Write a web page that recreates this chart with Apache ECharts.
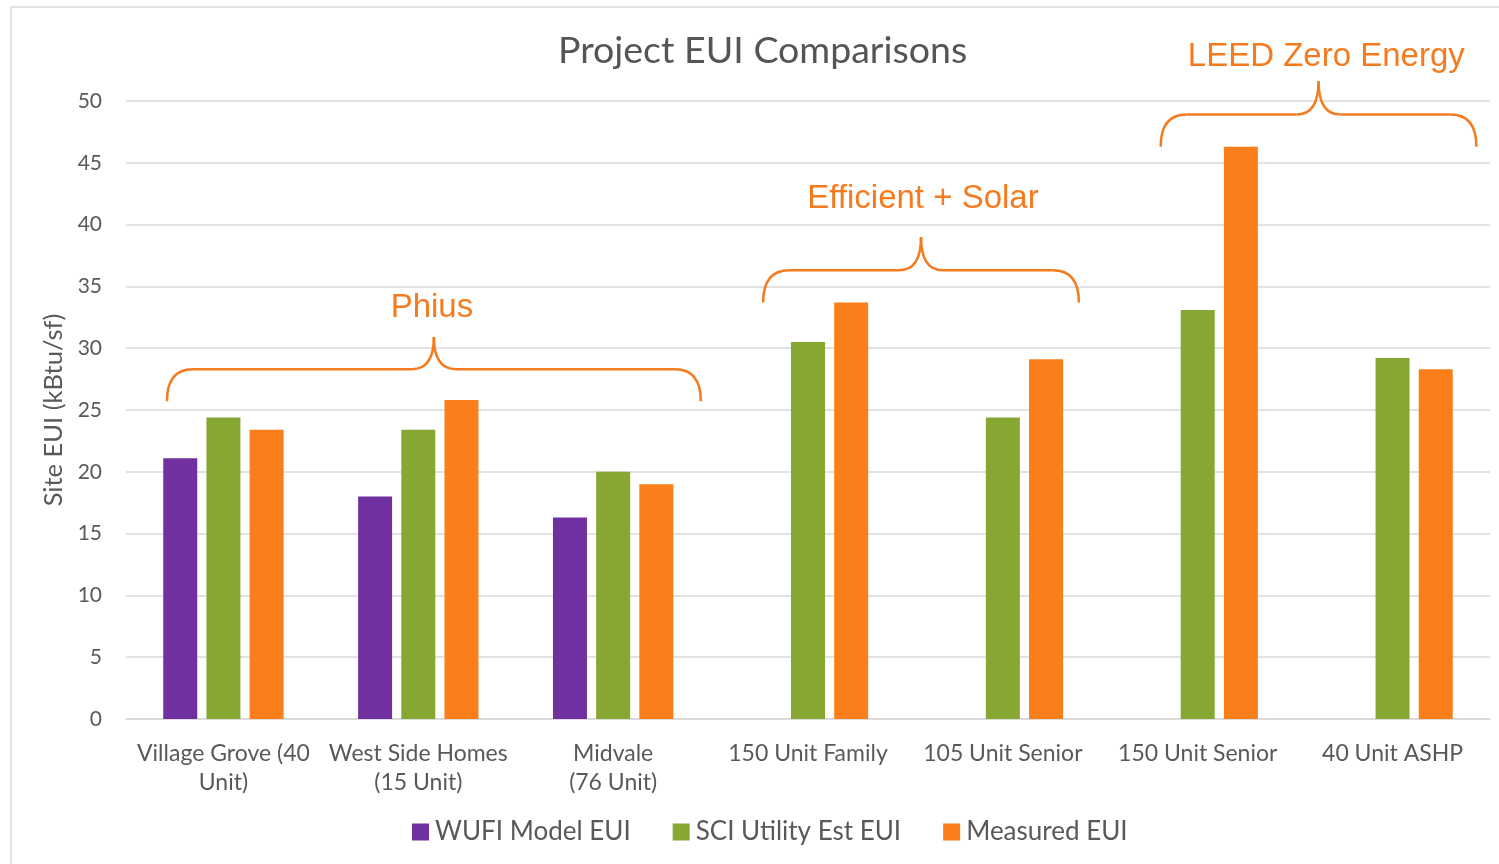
<!DOCTYPE html>
<html>
<head>
<meta charset="utf-8">
<script src="https://cdn.jsdelivr.net/npm/echarts@6/dist/echarts.min.js"></script>
<style>
  html, body { margin: 0; padding: 0; background: #ffffff; }
  #chart { width: 1499px; height: 864px; }
</style>
</head>
<body>
<div id="chart"></div>
<script>
// Projects compared (two-line labels as shown under the axis)
const categories = [
  'Village Grove (40\nUnit)',
  'West Side Homes\n(15 Unit)',
  'Midvale\n(76 Unit)',
  '150 Unit Family',
  '105 Unit Senior',
  '150 Unit Senior',
  '40 Unit ASHP'
];

// Site EUI, kBtu/sf
const wufiModel   = [21.1, 18.0, 16.3, null, null, null, null];
const sciUtility  = [24.4, 23.4, 20.0, 30.5, 24.4, 33.1, 29.2];
const measured    = [23.4, 25.8, 19.0, 33.7, 29.1, 46.3, 28.3];

const yTicks = { min: 0, max: 50, interval: 5 };

// Program groupings drawn as braces above the bars:
// start/end/caption positions in category units, heights in kBtu/sf
const groupNames  = ['Phius', 'Efficient + Solar', 'LEED Zero Energy'];
const groupStart  = [-0.29, 2.77, 4.81];
const groupEnd    = [2.45, 4.39, 6.43];
const groupFoot   = [25.7, 33.7, 46.3];
const groupBar    = [28.3, 36.3, 48.9];
const groupTip    = [30.9, 39.0, 51.6];
const groupLabelX = [1.07, 3.59, 5.66];
const groupLabelY = [33.25, 42.05, 53.55];

const FONT = 'Lato, "Open Sans", sans-serif';
const TEXT_GREY = '#595959';
const ACCENT = '#F47B20';

const chart = echarts.init(document.getElementById('chart'), null, { renderer: 'canvas' });

chart.setOption({
  animation: false,
  backgroundColor: '#ffffff',
  title: {
    text: 'Project EUI Comparisons',
    left: 553,
    top: 27,
    textStyle: { fontFamily: FONT, fontSize: 37.5, fontWeight: 'normal', color: '#555555' }
  },
  grid: { left: 126, right: 9, top: 101, bottom: 145, containLabel: false },
  legend: {
    bottom: 14,
    left: 407,
    itemWidth: 17,
    itemHeight: 17,
    itemGap: 42,
    icon: 'rect',
    textStyle: { fontFamily: FONT, fontSize: 26, color: TEXT_GREY, padding: [0, 0, 0, 1] },
    data: ['WUFI Model EUI', 'SCI Utility Est EUI', 'Measured EUI']
  },
  xAxis: {
    type: 'category',
    data: categories,
    axisTick: { show: false },
    axisLine: { show: true, lineStyle: { color: '#d9d9d9', width: 1.5 } },
    axisLabel: {
      interval: 0,
      margin: 20,
      fontFamily: FONT,
      fontSize: 23,
      lineHeight: 29,
      color: TEXT_GREY
    }
  },
  yAxis: {
    type: 'value',
    min: yTicks.min,
    max: yTicks.max,
    interval: yTicks.interval,
    name: 'Site EUI (kBtu/sf)',
    nameLocation: 'middle',
    nameGap: 58,
    nameRotate: 90,
    nameTextStyle: { fontFamily: FONT, fontSize: 25.5, color: TEXT_GREY },
    axisLine: { show: false },
    axisTick: { show: false },
    axisLabel: { margin: 24, fontFamily: FONT, fontSize: 21, color: TEXT_GREY },
    splitLine: { lineStyle: { color: '#d9d9d9', width: 1.5 } }
  },
  series: [
    { name: 'WUFI Model EUI', type: 'bar', data: wufiModel, barWidth: 34, barGap: '27%', itemStyle: { color: '#7030A0' } },
    { name: 'SCI Utility Est EUI', type: 'bar', data: sciUtility, barWidth: 34, barGap: '27%', itemStyle: { color: '#86A832' } },
    { name: 'Measured EUI', type: 'bar', data: measured, barWidth: 34, barGap: '27%', itemStyle: { color: '#FA7F1A' } }
  ]
});

// Braces and group captions, positioned through the chart's own axes
function drawGroups() {
  const x0 = chart.convertToPixel({ xAxisIndex: 0 }, 0);
  const x1 = chart.convertToPixel({ xAxisIndex: 0 }, 1);
  const step = x1 - x0;
  const px = (c) => x0 + c * step;
  const py = (v) => chart.convertToPixel({ yAxisIndex: 0 }, v);

  const stroke = { fill: 'none', stroke: ACCENT, lineWidth: 2.5 };
  const curve = (a, c, b) => ({
    type: 'bezierCurve', silent: true,
    shape: { x1: a[0], y1: a[1], cpx1: c[0], cpy1: c[1], x2: b[0], y2: b[1] },
    style: stroke
  });
  const seg = (a, b) => ({
    type: 'line', silent: true,
    shape: { x1: a[0], y1: a[1], x2: b[0], y2: b[1] },
    style: stroke
  });

  const elements = [
    {
      type: 'rect',
      silent: true,
      shape: { x: 11, y: 7, width: 1600, height: 1000 },
      style: { fill: 'none', stroke: '#d9d9d9', lineWidth: 1.5 },
      z: -1
    }
  ];

  groupNames.forEach((name, i) => {
    const xl = px(groupStart[i]);
    const xr = px(groupEnd[i]);
    const xm = (xl + xr) / 2;
    const yF = py(groupFoot[i]);
    const yB = py(groupBar[i]);
    const yT = py(groupTip[i]);
    const r = 26;
    const rm = 22;
    elements.push(curve([xl, yF], [xl, yB], [xl + r, yB]));
    elements.push(seg([xl + r, yB], [xm - rm, yB]));
    elements.push(curve([xm - rm, yB], [xm, yB], [xm, yT]));
    elements.push(curve([xm, yT], [xm, yB], [xm + rm, yB]));
    elements.push(seg([xm + rm, yB], [xr - r, yB]));
    elements.push(curve([xr - r, yB], [xr, yB], [xr, yF]));
    elements.push({
      type: 'text',
      silent: true,
      x: px(groupLabelX[i]),
      y: py(groupLabelY[i]),
      style: {
        text: name,
        fill: ACCENT,
        font: '33px "Liberation Sans", Arial, sans-serif',
        align: 'center',
        verticalAlign: 'middle'
      }
    });
  });

  chart.setOption({ graphic: { elements: elements } });
}

drawGroups();
</script>
</body>
</html>
